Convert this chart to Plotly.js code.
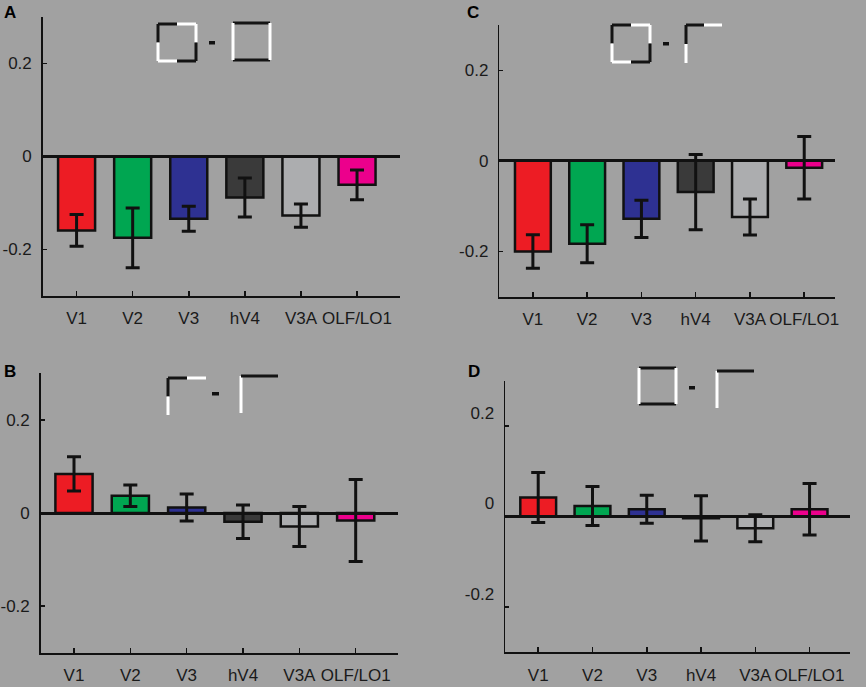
<!DOCTYPE html>
<html>
<head>
<meta charset="utf-8">
<script src="https://cdn.plot.ly/plotly-3.0.1.min.js"></script>
<style>
  html, body { margin: 0; padding: 0; background: #a1a1a1; }
  #chart { width: 866px; height: 687px; }
</style>
</head>
<body>
<div id="chart"></div>
<script>
// ---------- data ----------
const regions = ['V1', 'V2', 'V3', 'hV4', 'V3A', 'OLF/LO1'];
const valuesA = [-0.159, -0.175, -0.134, -0.088, -0.127, -0.061];
const errorsA = [0.034, 0.064, 0.027, 0.042, 0.025, 0.032];
const valuesB = [0.084, 0.037, 0.012, -0.019, -0.029, -0.016];
const errorsB = [0.037, 0.023, 0.029, 0.036, 0.043, 0.088];
const valuesC = [-0.200, -0.183, -0.128, -0.069, -0.124, -0.015];
const errorsC = [0.037, 0.042, 0.041, 0.083, 0.040, 0.069];
const valuesD = [0.042, 0.023, 0.016, -0.004, -0.026, 0.016];
const errorsD = [0.055, 0.043, 0.031, 0.050, 0.030, 0.057];
const barColors = ['#ed1c24', '#00a651', '#2e3192', '#3a3a3a', '#acadaf', '#ec008c'];
const yTickVals = [-0.2, 0, 0.2];
const yTickText = ['-0.2', '0', '0.2'];
const panelLetters = ['A', 'B', 'C', 'D'];

// ---------- layout helpers ----------
const W = 866, H = 687;
const px = x => x / W;
const py = y => 1 - y / H;
const BG = '#a1a1a1';
const INK = '#111111';

function barTrace(vals, errs, xa, ya) {
  return {
    type: 'bar', x: regions, y: vals, xaxis: xa, yaxis: ya,
    width: 0.66,
    marker: { color: barColors, line: { color: INK, width: 2.5 } },
    error_y: { type: 'data', array: errs, visible: true, color: INK, thickness: 3, width: 7 },
    hoverinfo: 'x+y', showlegend: false
  };
}

const data = [
  barTrace(valuesA, errorsA, 'x', 'y'),
  barTrace(valuesB, errorsB, 'x2', 'y2'),
  barTrace(valuesC, errorsC, 'x3', 'y3'),
  barTrace(valuesD, errorsD, 'x4', 'y4')
];

function xAxis(l, r, range, anchor) {
  return {
    domain: [px(l), px(r)], range: range, anchor: anchor,
    type: 'category', showgrid: false, zeroline: false,
    showline: true, linecolor: INK, linewidth: 2,
    ticks: 'inside', ticklen: 5, tickwidth: 1.5, tickcolor: INK,
    tickangle: 0, automargin: false,
    ticklabelstandoff: 6,
    tickfont: { family: 'Liberation Sans, Arial, sans-serif', size: 17, color: '#1a1a1a' },
    fixedrange: true
  };
}
function yAxis(top, bottom, anchor, shift) {
  return {
    domain: [py(bottom), py(top)], range: [-0.3, 0.3], anchor: anchor,
    showgrid: false, zeroline: true, zerolinecolor: INK, zerolinewidth: 3,
    zerolinelayer: 'above traces',
    showline: true, linecolor: INK, linewidth: 1.5,
    ticks: 'inside', ticklen: 4, tickwidth: 1.5, tickcolor: INK,
    tickvals: yTickVals, ticktext: yTickText, automargin: false,
    ticklabelstandoff: 6, ticklabelshift: shift || 0,
    tickfont: { family: 'Liberation Sans, Arial, sans-serif', size: 17, color: '#1a1a1a' },
    fixedrange: true
  };
}

// icon drawing (decorative stimulus glyphs)
const shapes = [];
function seg(x0, y0, x1, y1, color) {
  shapes.push({ type: 'line', xref: 'paper', yref: 'paper',
    x0: px(x0), y0: py(y0), x1: px(x1), y1: py(y1),
    line: { color: color, width: 3 } });
}
function dash(x0, y0, x1, y1) {
  shapes.push({ type: 'rect', xref: 'paper', yref: 'paper',
    x0: px(x0), y0: py(y0), x1: px(x1), y1: py(y1),
    fillcolor: INK, line: { width: 0 } });
}
const WH = '#ffffff', BK = '#141414';
// split-corner square: TL black, TR white, BR black, BL white
function splitSquare(l, t, r, b) {
  const mx = (l + r) / 2, my = (t + b) / 2;
  seg(l, t, mx, t, BK); seg(l, t, l, my, BK);
  seg(mx, t, r, t, WH); seg(r, t, r, my, WH);
  seg(mx, b, r, b, BK); seg(r, my, r, b, BK);
  seg(l, b, mx, b, WH); seg(l, my, l, b, WH);
}
// full square: top/bottom black, sides white
function fullSquare(l, t, r, b) {
  seg(l, t, r, t, BK); seg(l, b, r, b, BK);
  seg(l, t, l, b, WH); seg(r, t, r, b, WH);
}
// split corner: vertical top half black / bottom white, horizontal left black / right white
function splitCorner(x, y, r, b) {
  const mx = (x + r) / 2, my = (y + b) / 2;
  seg(x, y, x, my, BK); seg(x, my, x, b, WH);
  seg(x, y, mx, y, BK); seg(mx, y, r, y, WH);
}
// full corner: vertical white, horizontal black
function fullCorner(x, y, r, b) {
  seg(x, y, x, b, WH); seg(x, y, r, y, BK);
}

// Panel A
splitSquare(158, 24, 196, 61); dash(209, 41, 215, 44.5); fullSquare(233, 23, 270, 60);
// Panel C
splitSquare(612, 25, 650, 62); dash(663, 42, 669, 45.5); splitCorner(686, 25, 722, 63);
// Panel B
splitCorner(168, 378, 206, 415); dash(212, 392, 219, 395.5); fullCorner(241, 376, 278, 413);
// Panel D
fullSquare(639, 368, 676, 404); dash(689, 386, 695, 389.5); fullCorner(717, 371, 754, 408);

const letterPos = [[10, 13], [10, 371], [473, 13], [474, 371]];
const annotations = panelLetters.map((t, i) => ({
  text: '<b>' + t + '</b>', xref: 'paper', yref: 'paper',
  x: px(letterPos[i][0]), y: py(letterPos[i][1]), xanchor: 'center', yanchor: 'middle',
  showarrow: false, font: { family: 'Liberation Sans, Arial, sans-serif', size: 17, color: '#000' }
}));

const layout = {
  width: W, height: H,
  margin: { l: 0, r: 0, t: 0, b: 0, pad: 0 },
  paper_bgcolor: BG, plot_bgcolor: BG,
  showlegend: false,
  xaxis:  xAxis(42.7, 400, [-0.604, 5.766], 'y'),
  yaxis:  yAxis(17, 296, 'x'),
  xaxis2: xAxis(40.7, 398, [-0.591, 5.751], 'y2'),
  yaxis2: yAxis(373.3, 652.7, 'x2'),
  xaxis3: xAxis(499.3, 835, [-0.619, 5.567], 'y3'),
  yaxis3: yAxis(25, 296.7, 'x3'),
  xaxis4: xAxis(505, 850, [-0.612, 5.745], 'y4'),
  yaxis4: yAxis(380.7, 652.3, 'x4', -13),
  shapes: shapes,
  annotations: annotations
};

Plotly.newPlot('chart', data, layout, { displayModeBar: false, staticPlot: true });
</script>
</body>
</html>
